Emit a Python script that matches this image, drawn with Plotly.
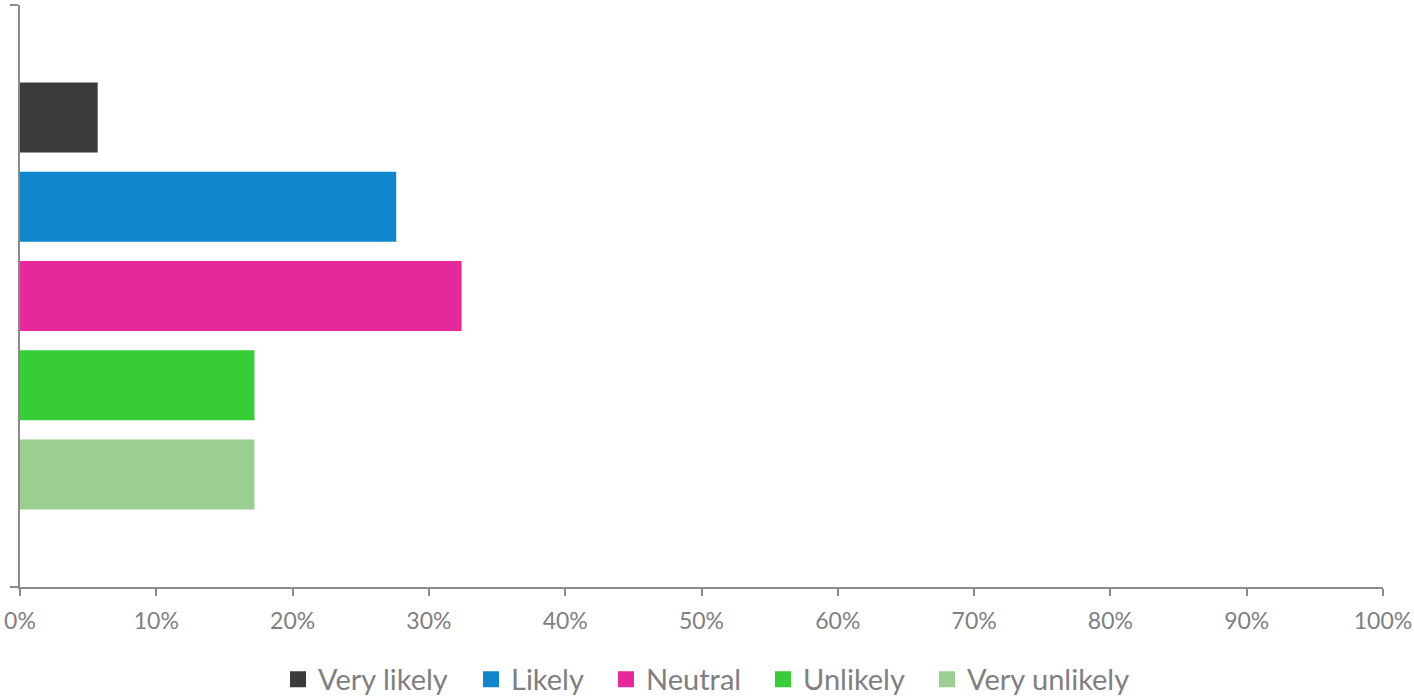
import plotly.graph_objects as go

categories = ["Q"]
series_names = ["Very likely", "Likely", "Neutral", "Unlikely", "Very unlikely"]
series_values = [5.7, 27.6, 32.4, 17.2, 17.2]
series_colors = ["#3b3b3b", "#0f86cb", "#e7289a", "#37cd37", "#9acf91"]
tick_vals = [0, 10, 20, 30, 40, 50, 60, 70, 80, 90, 100]
tick_text = [f"{v}%" for v in tick_vals]

# horizontal placement (container px) of each legend entry's text start
legend_text_px = [318, 511, 646, 803, 967]

fig = go.Figure()
for name, val, col in zip(series_names, series_values, series_colors):
    fig.add_trace(go.Bar(
        y=categories, x=[val], name=name, orientation="h",
        marker=dict(color=col, line=dict(width=0)), showlegend=False,
    ))

legend_layouts = {}
for i, (name, col, px) in enumerate(zip(series_names, series_colors, legend_text_px)):
    key = "legend" if i == 0 else f"legend{i + 1}"
    fig.add_trace(go.Scatter(
        x=[None], y=[None], mode="markers", name=name,
        marker=dict(symbol="square", size=18, color=col),
        showlegend=True, legend=key,
    ))
    legend_layouts[key] = dict(
        orientation="h", xref="container", x=(px - 40) / 1414, xanchor="left",
        yref="container", y=0.024, yanchor="middle",
        font=dict(size=29, color="#7f7f7f"),
        itemwidth=30, itemsizing="trace", bgcolor="rgba(0,0,0,0)",
    )

axis_col = "#8a8a8a"
fig.update_layout(
    width=1414, height=696,
    barmode="group", bargap=0.233, bargroupgap=0.215,
    plot_bgcolor="white", paper_bgcolor="white",
    margin=dict(l=20, r=31, t=5, b=109),
    font=dict(family="Lato, Open Sans, sans-serif", color="#7f7f7f"),
    xaxis=dict(
        range=[0, 100], tickvals=tick_vals, ticktext=tick_text,
        showgrid=False, zeroline=False, automargin=False,
        showline=True, linecolor=axis_col, linewidth=1.5,
        ticks="outside", ticklen=7, tickcolor=axis_col, tickwidth=1.5,
        tickfont=dict(size=23, color="#7f7f7f"), ticklabelstandoff=6,
    ),
    yaxis=dict(
        type="category", autorange="reversed", automargin=False,
        showticklabels=False, showgrid=False, zeroline=False,
        showline=True, linecolor=axis_col, linewidth=1.5,
        ticks="outside", ticklen=8, tickcolor=axis_col, tickwidth=1.5,
        tickson="boundaries",
    ),
    showlegend=True,
    **legend_layouts,
)

fig.write_html("out.html", config={"displayModeBar": False},
               post_script="document.body.style.margin='0';")
